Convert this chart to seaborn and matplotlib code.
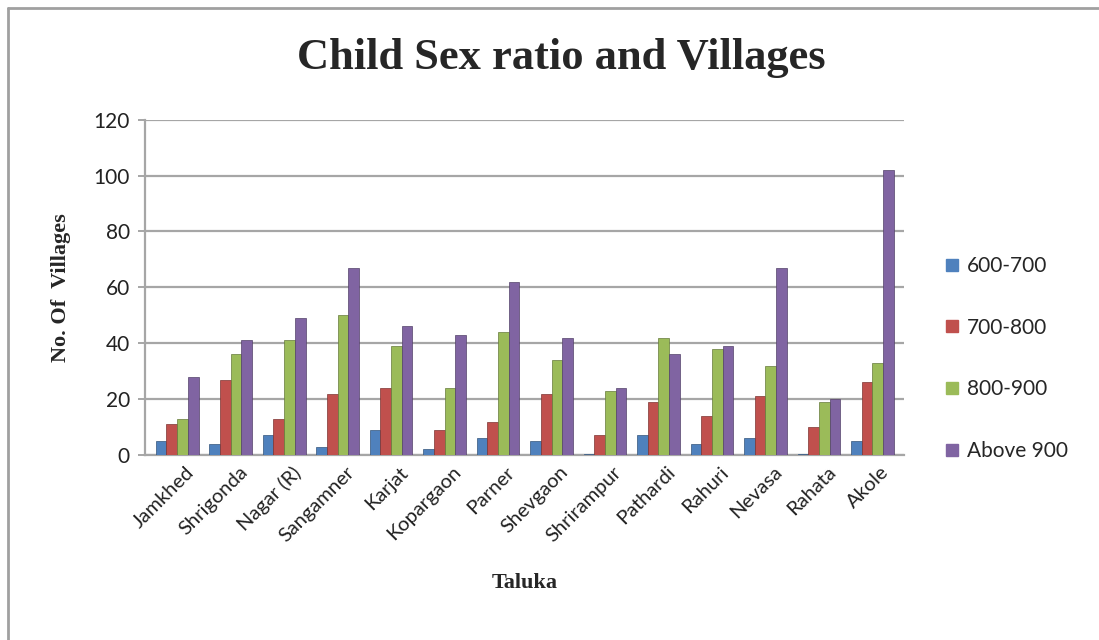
import pandas as pd
import numpy as np
import matplotlib
matplotlib.use("Agg")
import matplotlib.pyplot as plt
import matplotlib.transforms as mtrans
import seaborn as sns
from matplotlib.lines import Line2D

talukas = ['Jamkhed', 'Shrigonda', 'Nagar (R)', 'Sangamner', 'Karjat', 'Kopargaon', 'Parner',
           'Shevgaon', 'Shrirampur', 'Pathardi', 'Rahuri', 'Nevasa', 'Rahata', 'Akole']
ratio_groups = ['600-700', '700-800', '800-900', 'Above 900']
v_600_700 = [5, 4, 7, 3, 9, 2, 6, 5, 0.4, 7, 4, 6, 0.4, 5]
v_700_800 = [11, 27, 13, 22, 24, 9, 12, 22, 7, 19, 14, 21, 10, 26]
v_800_900 = [13, 36, 41, 50, 39, 24, 44, 34, 23, 42, 38, 32, 19, 33]
v_above_900 = [28, 41, 49, 67, 46, 43, 62, 42, 24, 36, 39, 67, 20, 102]
yticks = [0, 20, 40, 60, 80, 100, 120]

palette = ["#4F81BD", "#C0504D", "#9BBB59", "#8064A2"]  # excel 2007 colours

df = pd.DataFrame({'Taluka': talukas, '600-700': v_600_700, '700-800': v_700_800,
                   '800-900': v_800_900, 'Above 900': v_above_900})
df_long = df.melt(id_vars='Taluka', value_vars=ratio_groups, var_name='Ratio', value_name='Villages')

sns.set_theme(style="white")
plt.rcParams['font.family'] = ['Lato', 'DejaVu Sans']

fig = plt.figure(figsize=(10.99, 6.4), dpi=100)
ax = fig.add_axes([0.132, 0.289, 0.691, 0.524])

ax.yaxis.grid(True, color='#a6a6a6', lw=1.6, zorder=0)
ax.set_axisbelow(True)

sns.barplot(data=df_long, x='Taluka', y='Villages', hue='Ratio', hue_order=ratio_groups,
            order=talukas, palette=palette, width=0.8, saturation=1, ax=ax,
            linewidth=0.5, legend=False, zorder=3)

# darker outline for a bit of the excel 3d look
for bars, col in zip(ax.containers, palette):
    for b in bars:
        b.set_edgecolor(tuple(np.array(matplotlib.colors.to_rgb(col)) * 0.65))

ax.set_ylim(0, 120)
ax.set_xlim(-0.6, len(talukas) - 0.4)
ax.set_yticks(yticks)
ax.set_yticklabels([str(t) for t in yticks], fontsize=15, color='#222222')
ax.tick_params(axis='y', length=5, color='#a6a6a6', width=1.4, left=True, pad=6)
ax.tick_params(axis='x', length=0, pad=6)
ax.set_xticks(range(len(talukas)))
ax.set_xticklabels(talukas, rotation=45, ha='right', rotation_mode='anchor', fontsize=14.5, color='#222222')
# nudge labels right a little, like excel places them
shift = mtrans.ScaledTranslation(8 / 100, 0, fig.dpi_scale_trans)
for lbl in ax.get_xticklabels():
    lbl.set_transform(lbl.get_transform() + shift)

for s in ['top', 'right']:
    ax.spines[s].set_visible(False)
ax.spines['left'].set_color('#a6a6a6')
ax.spines['left'].set_linewidth(1.6)
ax.spines['bottom'].set_color('#a6a6a6')
ax.spines['bottom'].set_linewidth(1.6)

ax.set_xlabel('Taluka', family='Liberation Serif', fontweight='bold', fontsize=16, labelpad=20)
ax.set_ylabel('No. Of  Villages', family='Liberation Serif', fontweight='bold', fontsize=16, labelpad=16)

fig.text(0.511, 0.91, 'Child Sex ratio and Villages', ha='center', va='center',
         family='Liberation Serif', fontweight='bold', fontsize=32)

handles = [Line2D([0], [0], marker='s', color='none', markerfacecolor=c, markeredgecolor=c,
                  markersize=8) for c in palette]
fig.legend(handles, ratio_groups, loc='center left', bbox_to_anchor=(0.84, 0.44),
           frameon=False, fontsize=15, labelspacing=2.0, handletextpad=0.2, handlelength=1.0)

# outer chart frame (only top/left visible in the crop)
fig.add_artist(Line2D([0.0075, 0.0075], [0, 0.9875], color='#a0a0a0', lw=2, transform=fig.transFigure))
fig.add_artist(Line2D([0.0075, 1.0], [0.9875, 0.9875], color='#a0a0a0', lw=2, transform=fig.transFigure))

fig.savefig('out.png', dpi=100)
